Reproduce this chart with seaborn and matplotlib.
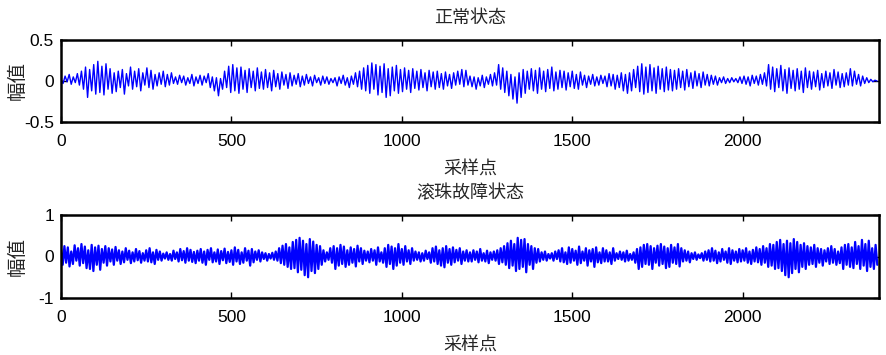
import numpy as np
import pandas as pd
import matplotlib
matplotlib.use("Agg")
import matplotlib.pyplot as plt
import seaborn as sns

# ---------------- data ----------------
# normal state: extrema every 6 samples
normal_a = [0.02,-0.03,0.06,-0.01,0.08,-0.04,0.05,-0.02,0.09,-0.05,
            0.12,-0.1,0.17,-0.2,0.14,-0.12,0.2,-0.16,0.24,-0.14,0.18,-0.17,0.21,-0.1,
            0.15,-0.15,0.1,-0.13,0.12,-0.08,0.14,-0.16,0.09,-0.06,
            0.17,-0.1,0.12,-0.07,0.15,-0.12,0.1,-0.05,0.16,-0.08,0.13,-0.1,0.08,
            -0.06,0.1,-0.04,0.12,-0.07,0.08,-0.05,0.1,-0.03,
            0.05,-0.04,0.07,-0.02,0.06,-0.05,0.04,-0.03,0.08,-0.06,0.05,
            -0.03,0.07,-0.05,0.06,-0.02,0.09,-0.08,0.05,-0.12,0.04,-0.18,0.03,
            -0.1,0.12,-0.08,0.18,-0.14,0.2,-0.12,0.16,-0.15,0.17,-0.1,0.13,-0.14,0.15,-0.08,0.12,-0.12,0.16,-0.09,0.11,-0.1]
normal_b = [0.14,-0.08,0.1,-0.12,0.13,-0.07,0.09,-0.1,0.11,-0.05,0.08,-0.09,0.1,-0.06,
            0.07,-0.04,0.09,-0.07,0.06,-0.05,0.08,-0.03,0.05,-0.06,0.07,-0.02,0.04,-0.05,0.06,-0.03,0.05,-0.04,0.03,-0.02,
            0.04,-0.06,0.05,-0.03,0.07,-0.05,0.04,-0.08,0.06,-0.04,0.1,-0.07,0.12,
            -0.1,0.16,-0.12,0.19,-0.15,0.22,-0.1,0.2,-0.17,0.18,-0.14,0.21,-0.2,0.15,-0.18,0.17,-0.12,0.19,-0.15,0.14,
            -0.13,0.16,-0.1,0.13,-0.14,0.15,-0.09,0.12,-0.11,0.14,-0.08,0.1,-0.12,0.13,-0.07,0.11,-0.1,
            0.12,-0.08,0.09,-0.1,0.11,-0.06,0.08,-0.09,0.1,-0.05,0.12,-0.04,0.14,-0.07,0.13,-0.05]
normal_c = [0.06,-0.07,0.05,-0.1,0.04,-0.06,0.07,-0.08,0.05,-0.04,0.08,-0.06,0.1,
            -0.05,0.2,-0.1,0.16,-0.14,0.12,-0.18,0.08,-0.22,0.05,-0.27,0.1,-0.2,0.14,-0.15,0.12,-0.1,
            0.15,-0.12,0.13,-0.15,0.16,-0.1,0.12,-0.13,0.14,-0.09,0.17,-0.12,0.11,-0.1,0.13,-0.08,0.12,-0.11,
            0.1,-0.07,0.12,-0.09,0.08,-0.1,0.11,-0.05,0.07,-0.08,0.06,-0.04,0.08,-0.06,0.05,
            -0.05,0.07,-0.03,0.06,-0.07,0.09,-0.06,0.08,-0.1,0.07,-0.08,0.1,-0.12,0.08,
            -0.15,0.1,-0.12,0.14,-0.08,0.18,-0.13,0.21,-0.16,0.17,-0.14,0.2,-0.12,0.16,-0.15,0.18,-0.1,0.15,-0.13,0.17,-0.11,0.14,-0.12]
normal_d = [0.13,-0.1,0.15,-0.08,0.12,-0.11,0.14,-0.07,0.1,-0.09,0.12,-0.06,0.09,-0.08,0.11,-0.05,
            0.08,-0.06,0.07,-0.04,0.06,-0.05,0.04,-0.02,0.05,-0.03,0.03,-0.02,0.04,-0.01,0.03,-0.02,0.05,
            -0.03,0.06,-0.04,0.05,-0.06,0.07,-0.03,0.06,-0.05,0.08,-0.04,0.1,-0.06,
            0.2,-0.1,0.17,-0.13,0.15,-0.08,0.19,-0.12,0.14,-0.15,0.16,-0.09,0.13,-0.12,0.15,-0.1,0.12,-0.14,0.16,-0.08,
            0.12,-0.1,0.11,-0.07,0.13,-0.11,0.09,-0.08,0.12,-0.06,0.1,-0.09,0.14,-0.05,0.11,-0.08,0.09,-0.07,
            0.1,-0.05,0.15,-0.06,0.12,-0.04,0.08,-0.06,0.06,-0.03,0.04,-0.02,0.02,-0.01,0.01,0.0]

# ball fault state: extrema every 5 samples
fault_a = [0.18,-0.2,0.25,-0.15,0.22,-0.24,0.12,-0.18,0.27,-0.1,0.2,-0.22,0.3,-0.16,0.24,-0.28,0.15,-0.3,0.28,-0.35,
           0.22,-0.2,0.26,-0.32,0.18,-0.15,0.25,-0.22,0.2,-0.12,0.17,-0.2,0.23,-0.1,0.15,-0.18,0.12,-0.14,0.2,-0.08,
           0.14,-0.16,0.1,-0.12,0.18,-0.09,0.13,-0.15,0.08,-0.1,0.15,-0.12,0.2,-0.14,0.1,-0.18,0.16,-0.08,0.12,-0.1,
           0.07,-0.05,0.1,-0.08,0.06,-0.1,0.14,-0.06,0.1,-0.12,0.18,-0.09,0.13,-0.15,0.2,-0.1,0.16,-0.13,0.11,-0.16]
fault_b = [0.14,-0.1,0.18,-0.15,0.12,-0.2,0.16,-0.08,0.2,-0.14,0.1,-0.12,0.17,-0.18,0.13,-0.09,0.19,-0.16,0.11,-0.13,
           0.15,-0.2,0.22,-0.12,0.16,-0.18,0.1,-0.15,0.2,-0.1,0.14,-0.22,0.18,-0.14,0.12,-0.08,0.15,-0.12,0.1,-0.06,
           0.08,-0.1,0.06,-0.05,0.09,-0.08,0.12,-0.1,0.2,-0.16,0.26,-0.2,0.3,-0.25,0.22,-0.3,0.35,-0.28,0.4,-0.38,
           0.45,-0.32,0.38,-0.45,0.3,-0.5,0.42,-0.35,0.36,-0.4,0.28,-0.3,0.25,-0.2,0.15,-0.12,0.1,-0.08,0.2,-0.15]
fault_c = [0.25,-0.3,0.2,-0.22,0.28,-0.18,0.24,-0.25,0.15,-0.2,0.22,-0.15,0.18,-0.24,0.26,-0.12,0.2,-0.18,0.14,-0.1,
           0.12,-0.14,0.18,-0.1,0.15,-0.2,0.22,-0.12,0.1,-0.15,0.2,-0.25,0.28,-0.18,0.24,-0.3,0.2,-0.22,0.3,-0.15,
           0.18,-0.2,0.25,-0.12,0.15,-0.18,0.2,-0.1,0.12,-0.08,0.1,-0.12,0.08,-0.1,0.14,-0.06,0.1,-0.15,0.2,-0.12,
           0.24,-0.18,0.15,-0.22,0.2,-0.26,0.25,-0.15,0.18,-0.2,0.22,-0.14,0.16,-0.1,0.2,-0.18,0.12,-0.1,0.15,-0.12]
fault_d = [0.1,-0.12,0.15,-0.08,0.12,-0.14,0.18,-0.1,0.08,-0.12,0.14,-0.16,0.1,-0.08,0.12,-0.1,0.15,-0.18,0.2,-0.14,
           0.25,-0.2,0.32,-0.28,0.38,-0.22,0.3,-0.35,0.45,-0.3,0.4,-0.25,0.42,-0.38,0.3,-0.2,0.25,-0.3,0.2,-0.15,
           0.18,-0.12,0.1,-0.08,0.12,-0.1,0.06,-0.05,0.08,-0.1,0.12,-0.06,0.15,-0.12,0.2,-0.14,0.1,-0.18,0.22,-0.15,
           0.18,-0.1,0.14,-0.2,0.24,-0.16,0.12,-0.1,0.2,-0.22,0.15,-0.12,0.18,-0.25,0.22,-0.14,0.1,-0.16,0.2,-0.12]
fault_e = [0.15,-0.12,0.1,-0.18,0.2,-0.1,0.08,-0.06,0.12,-0.08,0.1,-0.12,0.14,-0.1,0.06,-0.08,0.1,-0.15,0.18,-0.3,
           0.22,-0.25,0.28,-0.18,0.3,-0.2,0.25,-0.3,0.2,-0.15,0.26,-0.22,0.3,-0.18,0.24,-0.28,0.2,-0.25,0.28,-0.15,
           0.22,-0.18,0.3,-0.24,0.2,-0.12,0.15,-0.1,0.12,-0.14,0.08,-0.06,0.1,-0.08,0.05,-0.04,0.08,-0.1,0.12,-0.08,
           0.15,-0.12,0.2,-0.1,0.14,-0.16,0.1,-0.12,0.18,-0.08,0.12,-0.15,0.2,-0.18,0.15,-0.1,0.12,-0.14,0.18,-0.12]
fault_f = [0.15,-0.1,0.2,-0.15,0.12,-0.18,0.16,-0.12,0.22,-0.14,0.18,-0.2,0.25,-0.15,0.2,-0.25,0.3,-0.22,0.28,-0.3,
           0.35,-0.28,0.4,-0.35,0.3,-0.45,0.38,-0.5,0.32,-0.4,0.42,-0.3,0.35,-0.38,0.28,-0.25,0.32,-0.3,0.25,-0.2,
           0.22,-0.18,0.28,-0.25,0.2,-0.15,0.18,-0.22,0.15,-0.12,0.2,-0.18,0.25,-0.15,0.18,-0.2,0.12,-0.16,0.22,-0.3,
           0.28,-0.2,0.3,-0.25,0.22,-0.28,0.35,-0.18,0.25,-0.3,0.4,-0.22,0.3,-0.35,0.38,-0.25,0.2,-0.3,0.28,-0.2]

normal_step = 6
fault_step = 5
titles = ["正常状态", "滚珠故障状态"]
xlabel = "采样点"
ylabel = "幅值"
x_ticks = [0, 500, 1000, 1500, 2000]
top_yticks = [-0.5, 0, 0.5]
top_yticklabels = ["-0.5", "0", "0.5"]
bot_yticks = [-1, 0, 1]
bot_yticklabels = ["-1", "0", "1"]

normal = np.array(normal_a + normal_b + normal_c + normal_d)
fault = np.array(fault_a + fault_b + fault_c + fault_d + fault_e + fault_f)
df_n = pd.DataFrame({"x": np.arange(len(normal)) * normal_step, "y": normal})
df_f = pd.DataFrame({"x": np.arange(len(fault)) * fault_step, "y": fault})

# ---------------- style ----------------
sns.set_style("ticks")
plt.rcParams["font.family"] = ["Liberation Sans", "Noto Sans CJK SC", "DejaVu Sans"]
cjk = ["Noto Sans CJK SC", "DejaVu Sans"]

fig = plt.figure(figsize=(8.87, 3.55), dpi=100)
ax1 = fig.add_axes([61/887, 1-122/355, 818/887, 82/355])
ax2 = fig.add_axes([61/887, 1-298/355, 818/887, 83/355])

sns.lineplot(data=df_n, x="x", y="y", ax=ax1, color="#0000ff", linewidth=1.0, estimator=None)
sns.lineplot(data=df_f, x="x", y="y", ax=ax2, color="#0000ff", linewidth=1.6, estimator=None)

for ax, title, yt, ytl, ylim in [(ax1, titles[0], top_yticks, top_yticklabels, (-0.5, 0.5)),
                                  (ax2, titles[1], bot_yticks, bot_yticklabels, (-1, 1))]:
    ax.set_xlim(0, 2400)
    ax.set_ylim(*ylim)
    ax.set_xticks(x_ticks)
    ax.set_xticklabels([str(t) for t in x_ticks])
    ax.set_yticks(yt)
    ax.set_yticklabels(ytl)
    ax.tick_params(axis="both", direction="in", length=4, width=1, top=True, right=True,
                   labelsize=12.5, colors="black")
    ax.tick_params(axis="x", pad=9)
    ax.tick_params(axis="y", pad=5)
    for s in ax.spines.values():
        s.set_visible(True)
        s.set_linewidth(1.8)
        s.set_color("black")
    ax.set_title(title, fontsize=13, family=cjk, pad=12)
    ax.set_xlabel(xlabel, fontsize=13, family=cjk, labelpad=8)
    ax.set_ylabel(ylabel, fontsize=14, family=cjk)
    ax.yaxis.set_label_coords(-0.041, 0.5)

fig.savefig("out.png", dpi=100)
